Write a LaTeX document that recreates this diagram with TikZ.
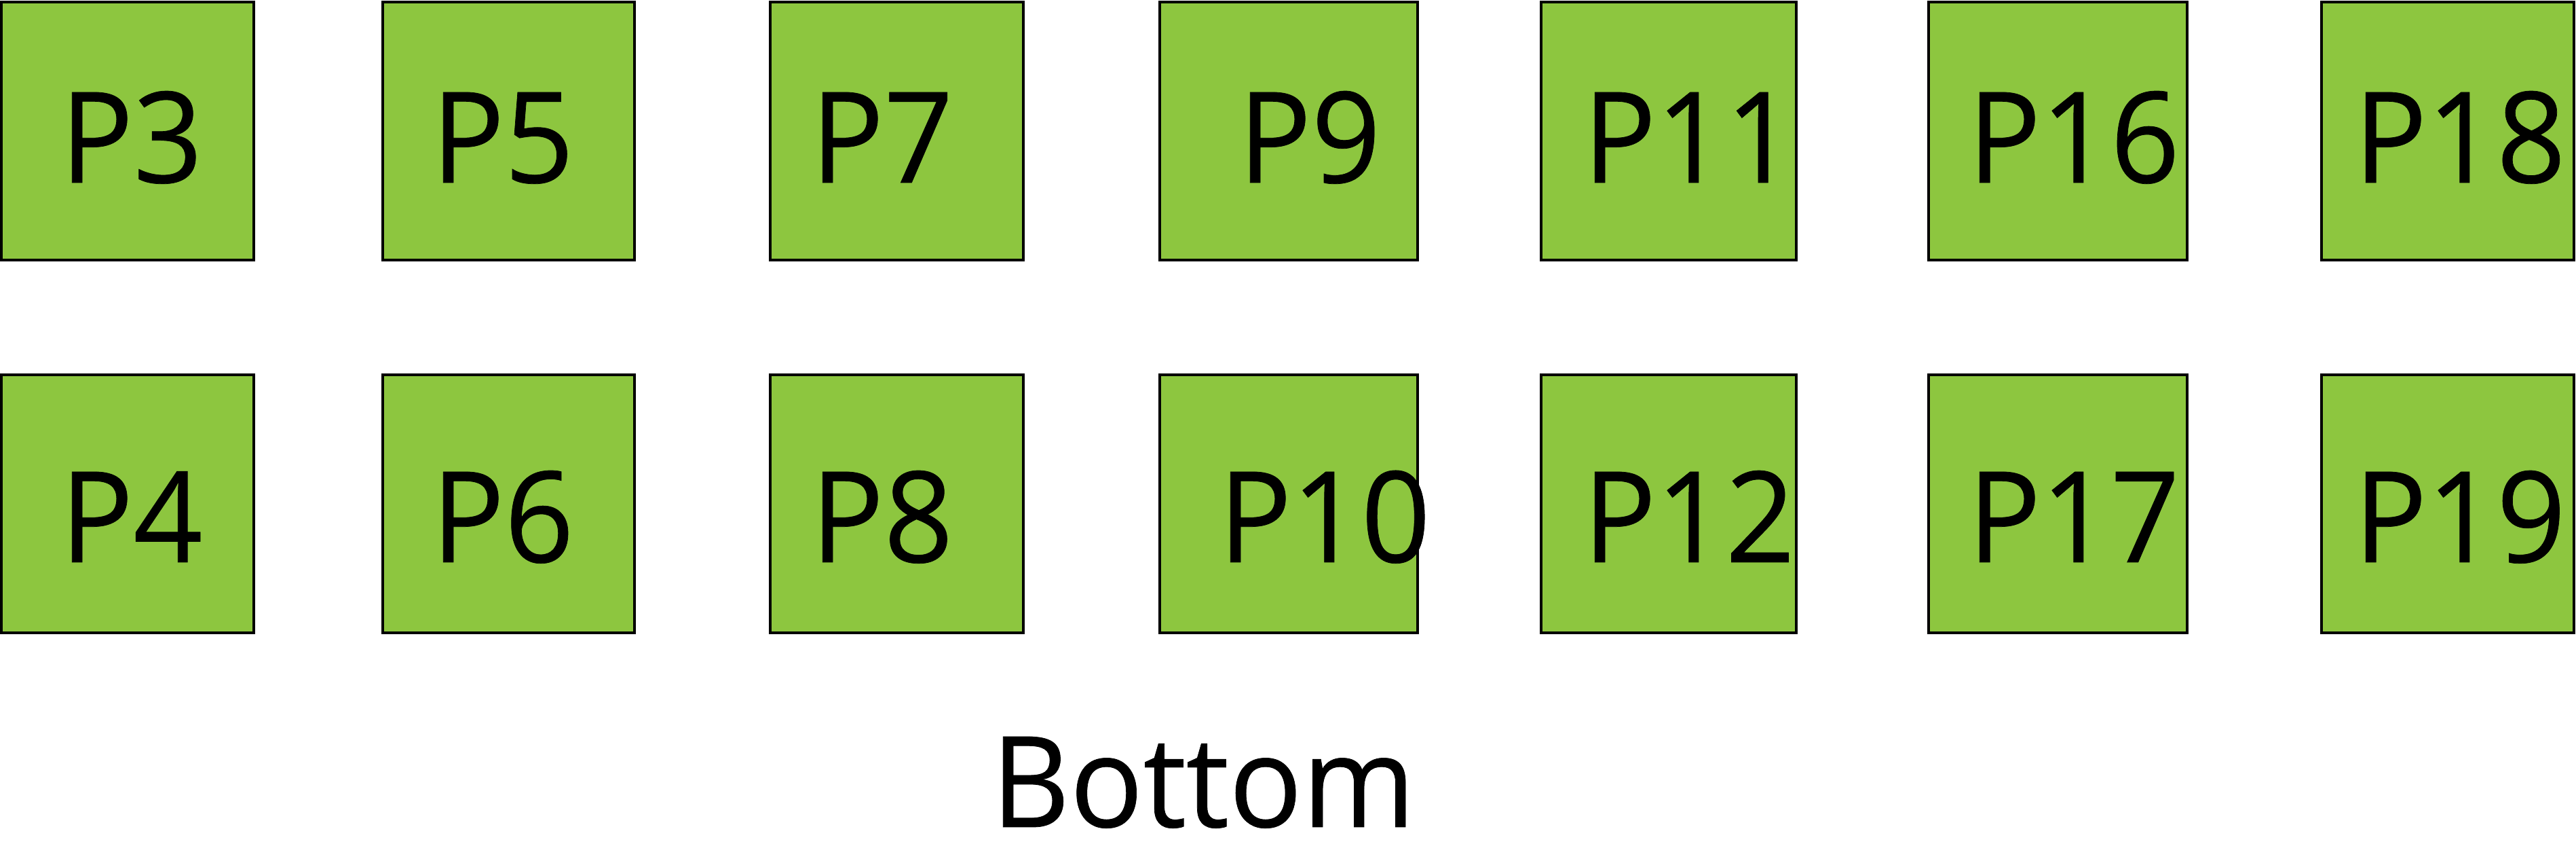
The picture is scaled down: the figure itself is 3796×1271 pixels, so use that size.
\documentclass[tikz,border=0pt]{standalone}
\usepackage{fontspec}
\setmainfont[FakeBold=0.4]{Open Sans}
\definecolor{padgreen}{HTML}{8DC63F}
\newcommand{\padtxt}[1]{\scalebox{0.96}[1]{#1}}
\tikzset{
  pad/.style={draw=black, line width=0.9pt, fill=padgreen, inner sep=0pt},
  padlabel/.style={anchor=base west, inner sep=0pt, font=\fontsize{53}{60}\selectfont},
}
\begin{document}
\begin{tikzpicture}[x=0.01cm, y=-0.01cm]
\useasboundingbox (0,0) rectangle (3796,1271);
% row 1
\foreach \nm/\xa/\xb/\tx in {P3/2/374/88, P5/564/935/635, P7/1135/1508/1194, P9/1709/2089/1824, P11/2271/2647/2332, P16/2842/3223/2899, P18/3421/3793/3468}{
  \path[pad] (\xa,3) rectangle (\xb,383);
  \node[padlabel] (l\nm) at (\tx,269) {\padtxt{\nm}};
}
% row 2
\foreach \nm/\xa/\xb/\tx in {P4/2/374/88, P6/564/935/635, P8/1135/1508/1194, P10/1709/2089/1795, P12/2271/2647/2332, P17/2842/3223/2899, P19/3421/3793/3468}{
  \path[pad] (\xa,552) rectangle (\xb,932);
  \node[padlabel] (l\nm) at (\tx,828) {\padtxt{\nm}};
}
\node[padlabel] (bottom) at (1460,1218) {\padtxt{Bottom}};
\end{tikzpicture}
\end{document}
